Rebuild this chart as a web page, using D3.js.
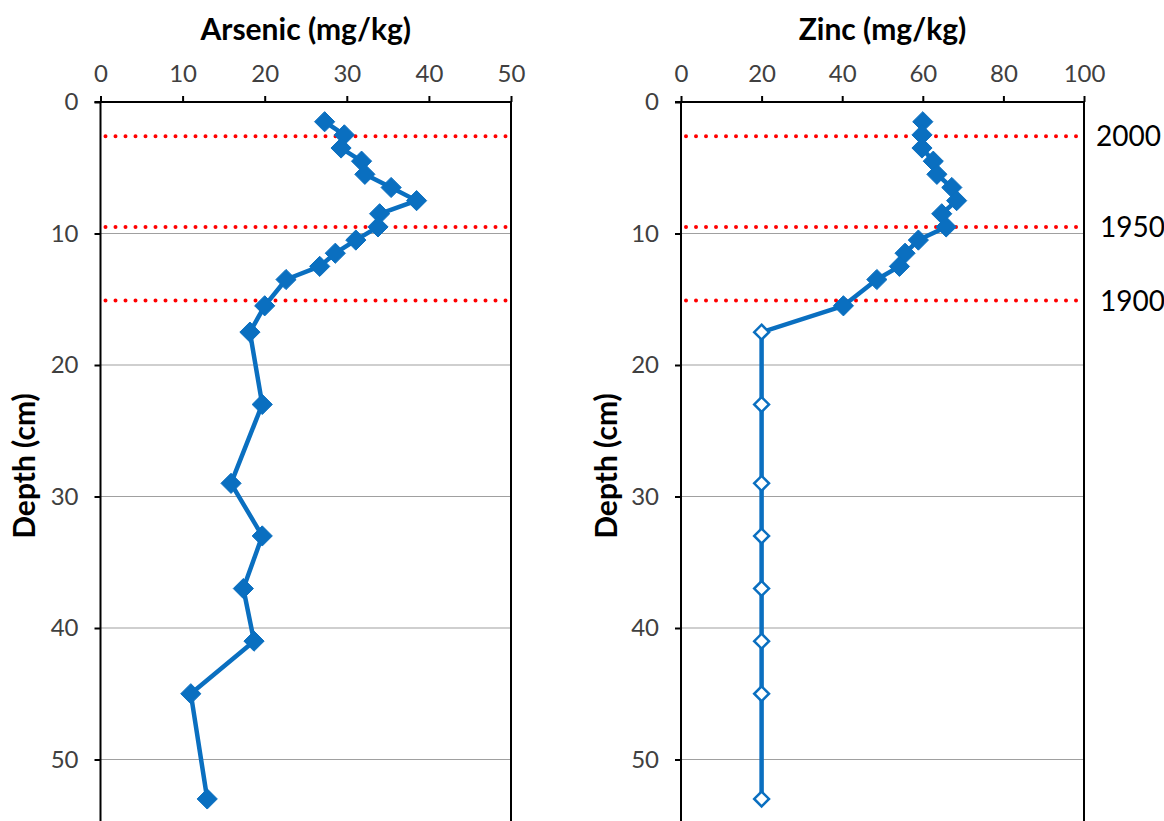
<!DOCTYPE html>
<html>
<head>
<meta charset="utf-8">
<script src="https://cdn.jsdelivr.net/npm/d3@7"></script>
<style>
  html, body { margin: 0; padding: 0; background: #fff; }
  svg { display: block; font-family: Lato, "Open Sans", sans-serif; }
</style>
</head>
<body>
<svg id="chart" width="1164" height="821"></svg>
<script>
// Sediment core profiles: depth (cm) vs. concentration (mg/kg)
const depths = [1.5, 2.5, 3.5, 4.5, 5.5, 6.5, 7.5, 8.5, 9.5, 10.5, 11.5, 12.5, 13.5, 15.5, 17.5, 23, 29, 33, 37, 41, 45, 53];
const arsenic = [27.3, 29.7, 29.3, 31.8, 32.2, 35.4, 38.5, 34.0, 33.8, 31.1, 28.6, 26.7, 22.6, 20.0, 18.2, 19.7, 15.9, 19.7, 17.4, 18.7, 11.0, 13.0];
const zinc = [60.0, 59.8, 59.8, 62.6, 63.5, 67.2, 68.4, 64.7, 65.8, 58.9, 55.6, 54.2, 48.6, 40.3, 20, 20, 20, 20, 20, 20, 20, 20];
// zinc samples below this count are reported at the detection limit (open markers)
const zincMeasuredCount = 14;
const arsenicTicks = [0, 10, 20, 30, 40, 50];
const zincTicks = [0, 20, 40, 60, 80, 100];
const depthTicks = [0, 10, 20, 30, 40, 50];
const dateDepths = [2.6, 9.5, 15.1];
const dateLabels = ["2000", "1950", "1900"];

const svg = d3.select("#chart");
const blue = "#0a6fc0";
const font = "Lato, 'Open Sans', sans-serif";

const y = d3.scaleLinear().domain([0, 60]).range([102, 891]);

const panels = [
  { title: "Arsenic (mg/kg)", values: arsenic, ticks: arsenicTicks, domain: [0, 50], range: [100.5, 511], depthLabelX: 27, measured: arsenic.length },
  { title: "Zinc (mg/kg)", values: zinc, ticks: zincTicks, domain: [0, 100], range: [681, 1084], depthLabelX: 609, measured: zincMeasuredCount }
];

panels.forEach(p => {
  const x = d3.scaleLinear().domain(p.domain).range(p.range);
  const g = svg.append("g");
  const [x0, x1] = p.range;

  // horizontal gridlines
  g.append("g").selectAll("line")
    .data(depthTicks.filter(d => d > 0))
    .join("line")
    .attr("x1", x0).attr("x2", x1)
    .attr("y1", d => y(d)).attr("y2", d => y(d))
    .attr("stroke", "#a0a0a0").attr("stroke-width", 1.2);

  // dated horizons
  g.append("g").selectAll("line")
    .data(dateDepths)
    .join("line")
    .attr("x1", x0 + 5).attr("x2", x1)
    .attr("y1", d => y(d)).attr("y2", d => y(d))
    .attr("stroke", "#ff0000").attr("stroke-width", 4)
    .attr("stroke-linecap", "round")
    .attr("stroke-dasharray", "0 10");

  // right border
  g.append("line")
    .attr("x1", x1).attr("x2", x1)
    .attr("y1", y(0)).attr("y2", 891)
    .attr("stroke", "#000").attr("stroke-width", 2);

  // top axis
  const xAxis = d3.axisTop(x).tickValues(p.ticks).tickSize(6).tickPadding(14).tickFormat(d3.format("d"));
  const xa = g.append("g").attr("transform", `translate(0,${y(0)})`).call(xAxis);
  xa.select(".domain").attr("stroke", "#000").attr("stroke-width", 2).attr("d", `M${x0 - 6},0H${x1}`);
  xa.selectAll(".tick line").attr("stroke", "#000").attr("stroke-width", 2);
  xa.selectAll(".tick text").attr("font-size", 24).attr("fill", "#404040").attr("font-family", font);

  // left axis
  const yAxis = d3.axisLeft(y).tickValues(depthTicks).tickSize(6).tickPadding(16).tickFormat(d3.format("d"));
  const ya = g.append("g").attr("transform", `translate(${x0},0)`).call(yAxis);
  ya.select(".domain").attr("stroke", "#000").attr("stroke-width", 2).attr("d", `M0,${y(0)}V891`);
  ya.selectAll(".tick line").attr("stroke", "#000").attr("stroke-width", 2);
  ya.selectAll(".tick text").attr("font-size", 24).attr("fill", "#404040").attr("font-family", font);

  // titles
  g.append("text")
    .attr("x", (x0 + x1) / 2).attr("y", 40)
    .attr("text-anchor", "middle")
    .attr("font-size", 30).attr("font-weight", "bold").attr("fill", "#000")
    .text(p.title);

  g.append("text")
    .attr("transform", `translate(${p.depthLabelX},466) rotate(-90)`)
    .attr("text-anchor", "middle").attr("dominant-baseline", "middle")
    .attr("font-size", 30).attr("font-weight", "bold").attr("fill", "#000")
    .text("Depth (cm)");

  // profile line
  const pts = depths.map((d, i) => ({ depth: d, value: p.values[i], measured: i < p.measured }));
  g.append("path")
    .datum(pts)
    .attr("fill", "none").attr("stroke", blue).attr("stroke-width", 4.5)
    .attr("stroke-linejoin", "round")
    .attr("d", d3.line().x(d => x(d.value)).y(d => y(d.depth)));

  // markers
  const diamond = d3.symbol().type(d3.symbolDiamond2);
  g.append("g").selectAll("path")
    .data(pts)
    .join("path")
    .attr("transform", d => `translate(${x(d.value)},${y(d.depth)})`)
    .attr("d", d => diamond.size(d.measured ? 260 : 140)())
    .attr("fill", d => d.measured ? blue : "#fff")
    .attr("stroke", blue)
    .attr("stroke-width", d => d.measured ? 1 : 2.5);
});

// date labels at the right of the zinc panel
svg.append("g").selectAll("text")
  .data(dateDepths)
  .join("text")
  .attr("x", (d, i) => i === 0 ? 1096 : 1100)
  .attr("y", d => y(d) + 3)
  .attr("dominant-baseline", "middle")
  .attr("font-size", 28).attr("fill", "#000")
  .text((d, i) => dateLabels[i]);
</script>
</body>
</html>
